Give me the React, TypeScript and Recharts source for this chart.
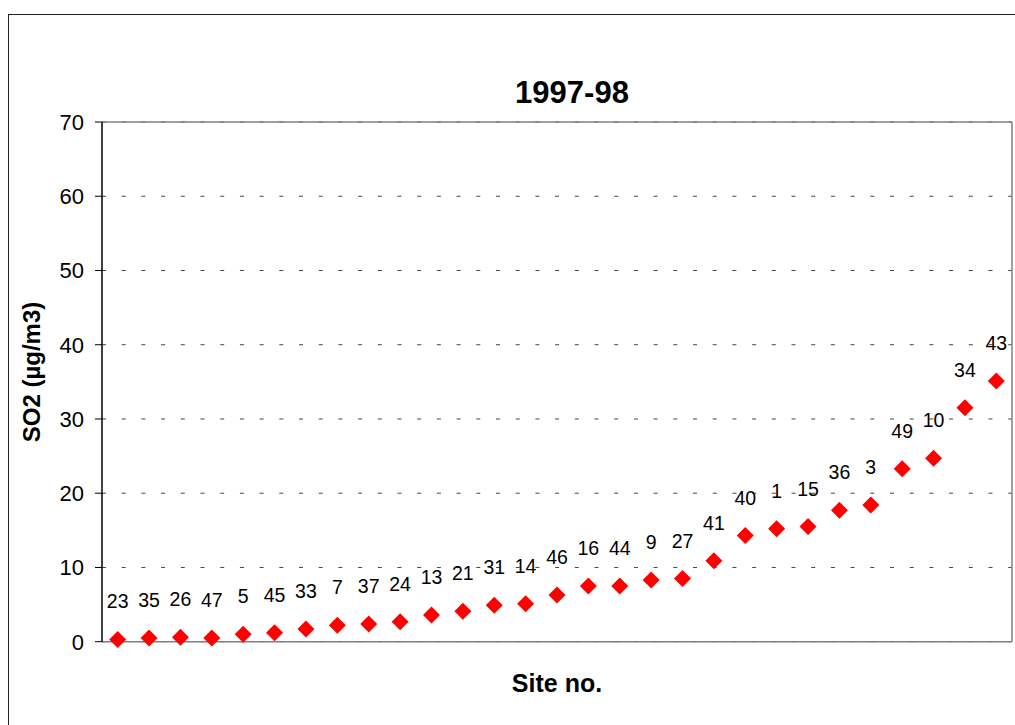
import { ComposedChart, Scatter, XAxis, YAxis, CartesianGrid, Label } from 'recharts';

const FONT = '"Liberation Sans", Arial, Helvetica, sans-serif';

const title = '1997-98';
const xTitle = 'Site no.';
const yTitle = 'SO2 (µg/m3)';

// sites sorted by concentration
const sites = [
  '23', '35', '26', '47', '5', '45', '33', '7', '37', '24',
  '13', '21', '31', '14', '46', '16', '44', '9', '27', '41',
  '40', '1', '15', '36', '3', '49', '10', '34', '43',
];
const so2 = [
  0.3, 0.5, 0.6, 0.5, 1.0, 1.2, 1.7, 2.2, 2.4, 2.7,
  3.6, 4.1, 4.9, 5.1, 6.3, 7.5, 7.5, 8.3, 8.5, 10.9,
  14.3, 15.2, 15.5, 17.7, 18.4, 23.3, 24.7, 31.5, 35.1,
];
const yTicks = [0, 10, 20, 30, 40, 50, 60, 70];

const data = sites.map((site, i) => ({ site, value: so2[i] }));

const Diamond = (props: any) => {
  const { cx, cy, payload } = props;
  const r = 8.5;
  return (
    <g>
      <polygon
        points={`${cx},${cy - r} ${cx + r},${cy} ${cx},${cy + r} ${cx - r},${cy}`}
        fill="#ff0000"
      />
      <text x={cx} y={cy - 31} textAnchor="middle" fontSize={19.5} fill="#000" fontFamily={FONT}>
        {payload.site}
      </text>
    </g>
  );
};

export default function App() {
  return (
    <div style={{ position: 'absolute', left: 0, top: 0, width: 1015, height: 725, overflow: 'hidden', background: '#fff' }}>
      <div
        style={{
          position: 'absolute',
          left: 8,
          top: 14,
          width: 1100,
          height: 800,
          border: '1px solid #222',
        }}
      />
      <div style={{ position: 'absolute', left: 0, top: 0 }}>
        <ComposedChart
          width={1015}
          height={725}
          data={data}
          margin={{ top: 121, right: 2, bottom: 53.3, left: 22 }}
        >
          <CartesianGrid vertical={false} stroke="#444" strokeDasharray="4 15.7" />
          <XAxis
            dataKey="site"
            type="category"
            scale="band"
            height={30}
            tick={false}
            tickLine={false}
            axisLine={{ stroke: '#808080', strokeWidth: 1.5 }}
          >
            <Label
              content={() => (
                <text x={557} y={692} textAnchor="middle" fontSize={25} fontWeight="bold" fill="#000" fontFamily={FONT}>
                  {xTitle}
                </text>
              )}
            />
          </XAxis>
          <XAxis
            xAxisId="top"
            orientation="top"
            dataKey="site"
            type="category"
            scale="band"
            height={1}
            tick={false}
            tickLine={false}
            axisLine={{ stroke: '#808080', strokeWidth: 1.5 }}
          />
          <YAxis
            domain={[0, 70]}
            ticks={yTicks}
            interval={0}
            width={80}
            tickSize={7}
            tickMargin={11}
            tick={{ fill: '#000', fontSize: 22, fontFamily: FONT }}
            tickLine={{ stroke: '#000' }}
            axisLine={{ stroke: '#000', strokeWidth: 1.5 }}
          >
            <Label
              content={() => (
                <g>
                  <text
                    x={39.5}
                    y={372}
                    transform="rotate(-90 39.5 372)"
                    textAnchor="middle"
                    fontSize={24}
                    fontWeight="bold"
                    fill="#000"
                    fontFamily={FONT}
                  >
                    {yTitle}
                  </text>
                  <text x={572} y={103} textAnchor="middle" fontSize={31} fontWeight="bold" fill="#000" fontFamily={FONT}>
                    {title}
                  </text>
                </g>
              )}
            />
          </YAxis>
          <YAxis
            yAxisId="right"
            orientation="right"
            domain={[0, 70]}
            width={1}
            tick={false}
            tickLine={false}
            axisLine={{ stroke: '#808080', strokeWidth: 1.5 }}
          />
          <Scatter dataKey="value" shape={<Diamond />} isAnimationActive={false} />
        </ComposedChart>
      </div>
    </div>
  );
}
